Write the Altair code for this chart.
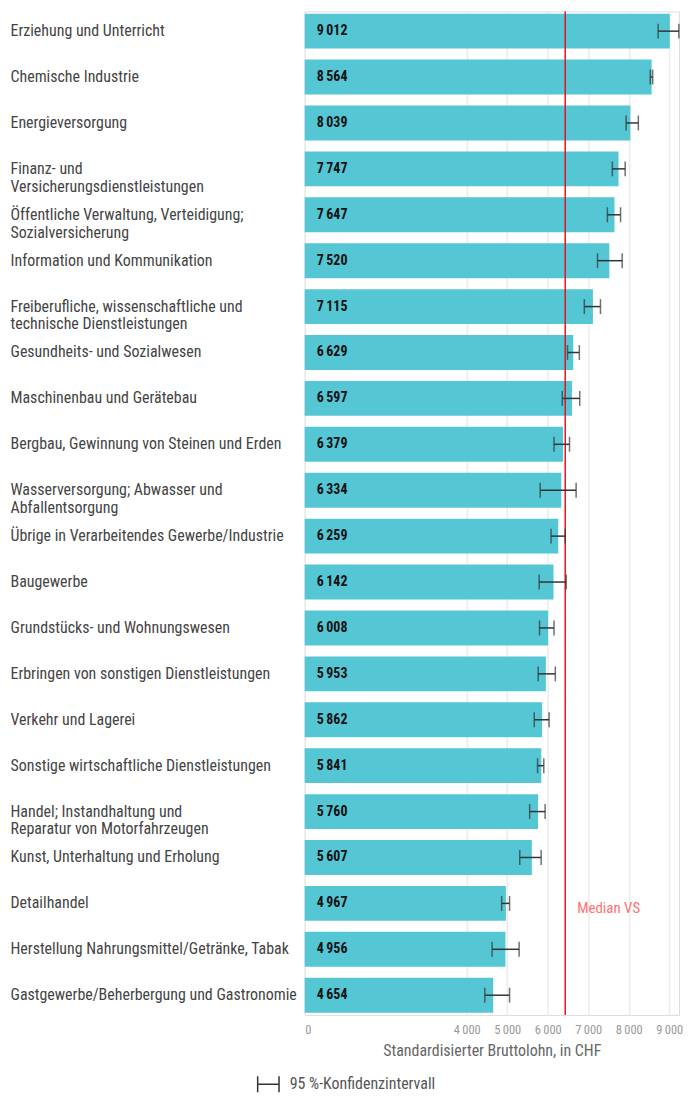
import altair as alt
import pandas as pd

categories = [
    "Erziehung und Unterricht",
    "Chemische Industrie",
    "Energieversorgung",
    "Finanz- und|Versicherungsdienstleistungen",
    "Öffentliche Verwaltung, Verteidigung;|Sozialversicherung",
    "Information und Kommunikation",
    "Freiberufliche, wissenschaftliche und|technische Dienstleistungen",
    "Gesundheits- und Sozialwesen",
    "Maschinenbau und Gerätebau",
    "Bergbau, Gewinnung von Steinen und Erden",
    "Wasserversorgung; Abwasser und|Abfallentsorgung",
    "Übrige in Verarbeitendes Gewerbe/Industrie",
    "Baugewerbe",
    "Grundstücks- und Wohnungswesen",
    "Erbringen von sonstigen Dienstleistungen",
    "Verkehr und Lagerei",
    "Sonstige wirtschaftliche Dienstleistungen",
    "Handel; Instandhaltung und|Reparatur von Motorfahrzeugen",
    "Kunst, Unterhaltung und Erholung",
    "Detailhandel",
    "Herstellung Nahrungsmittel/Getränke, Tabak",
    "Gastgewerbe/Beherbergung und Gastronomie",
]
values = [9012, 8564, 8039, 7747, 7647, 7520, 7115, 6629, 6597, 6379, 6334,
          6259, 6142, 6008, 5953, 5862, 5841, 5760, 5607, 4967, 4956, 4654]
ci_low = [8724, 8530, 7935, 7594, 7472, 7228, 6902, 6488, 6358, 6154, 5813,
          6081, 5788, 5797, 5764, 5667, 5748, 5553, 5309, 4862, 4626, 4447]
ci_high = [9236, 8590, 8236, 7911, 7797, 7837, 7301, 6780, 6789, 6537, 6700,
           6431, 6456, 6154, 6187, 6033, 5902, 5935, 5837, 5057, 5293, 5057]
median_vs = 6431
median_label = "Median VS"
tick_values = [0, 4000, 5000, 6000, 7000, 8000, 9000]
x_title = "Standardisierter Bruttolohn, in CHF"
ci_label = "95 %-Konfidenzintervall"

df = pd.DataFrame({"cat": categories, "v": values, "lo": ci_low, "hi": ci_high,
                   "ci": [ci_label] * len(categories)})
med = pd.DataFrame({"m": [median_vs], "label": [median_label], "cat": ["Detailhandel"]})

FONT = "'Roboto Condensed', 'Liberation Sans Narrow', 'DejaVu Sans Condensed', 'Noto Sans', Roboto, sans-serif"

y_enc = alt.Y(
    "cat:N", sort=categories, title=None,
    scale=alt.Scale(paddingInner=0.24, paddingOuter=0.05),
    axis=alt.Axis(labelExpr="split(datum.value, '|')", labelAlign="left",
                  labelPadding=296, ticks=False, domain=False, grid=False,
                  labelFont=FONT, labelFontSize=16, labelColor="#444",
                  labelLineHeight=18, labelLimit=300),
)
x_scale = alt.Scale(domain=[0, 9240], nice=False)
x_axis = alt.Axis(values=tick_values, format=",d", grid=True, gridColor="#ebebeb",
                  gridWidth=1.5, domain=False, ticks=False, labelColor="#999",
                  labelFontSize=12.5, labelFont=FONT, labelPadding=9,
                  title=x_title, titleFont=FONT, titleFontSize=16,
                  titleFontWeight="normal", titleColor="#666", titlePadding=6)

base = alt.Chart(df)

bars = base.mark_bar(color="#54c6d4").encode(
    x=alt.X("v:Q", scale=x_scale, axis=x_axis),
    y=y_enc,
)

txt = base.mark_text(align="left", dx=12, font=FONT, fontSize=14,
                     fontWeight="bold", color="#111").encode(
    x=alt.datum(0),
    y=alt.Y("cat:N", sort=categories),
    text=alt.Text("v:Q", format=",d"),
)

err_line = base.mark_rule(strokeWidth=1.5).encode(
    x="lo:Q", x2="hi:Q",
    y=alt.Y("cat:N", sort=categories),
    stroke=alt.Stroke("ci:N", scale=alt.Scale(range=["#333333"]),
                      legend=alt.Legend(
                          title=None, orient="none", legendX=-48, legendY=1066,
                          symbolType="M -1 -0.75 L -1 0.75 M -1 0 L 1 0 M 1 -0.75 L 1 0.75",
                          symbolSize=460, symbolStrokeWidth=1.5,
                          symbolStrokeColor="#333", symbolFillColor="transparent",
                          labelFont=FONT, labelFontSize=16, labelColor="#555",
                          labelOffset=10)),
)
cap_lo = base.mark_tick(size=15, thickness=1.5, color="#333").encode(
    x="lo:Q", y=alt.Y("cat:N", sort=categories))
cap_hi = base.mark_tick(size=15, thickness=1.5, color="#333").encode(
    x="hi:Q", y=alt.Y("cat:N", sort=categories))

med_rule = alt.Chart(med).mark_rule(color="#e3131f", strokeWidth=1.5).encode(x="m:Q")
med_text = alt.Chart(med).mark_text(align="left", dx=12, dy=5, font=FONT, fontSize=15,
                                    color="#ff7373").encode(
    x="m:Q", y=alt.Y("cat:N", sort=categories), text="label:N")

chart = alt.layer(bars, med_rule, err_line, cap_lo, cap_hi, txt, med_text).properties(
    width=376, height=1008, padding={"left": 2, "top": 0, "right": 0, "bottom": 0}
).configure_view(stroke=None).configure(
    locale={"number": {"decimal": ".", "thousands": "\u2009", "grouping": [3],
                       "currency": ["", ""]}}
)

chart.save("out.html", embed_options={"renderer": "svg", "actions": False})
